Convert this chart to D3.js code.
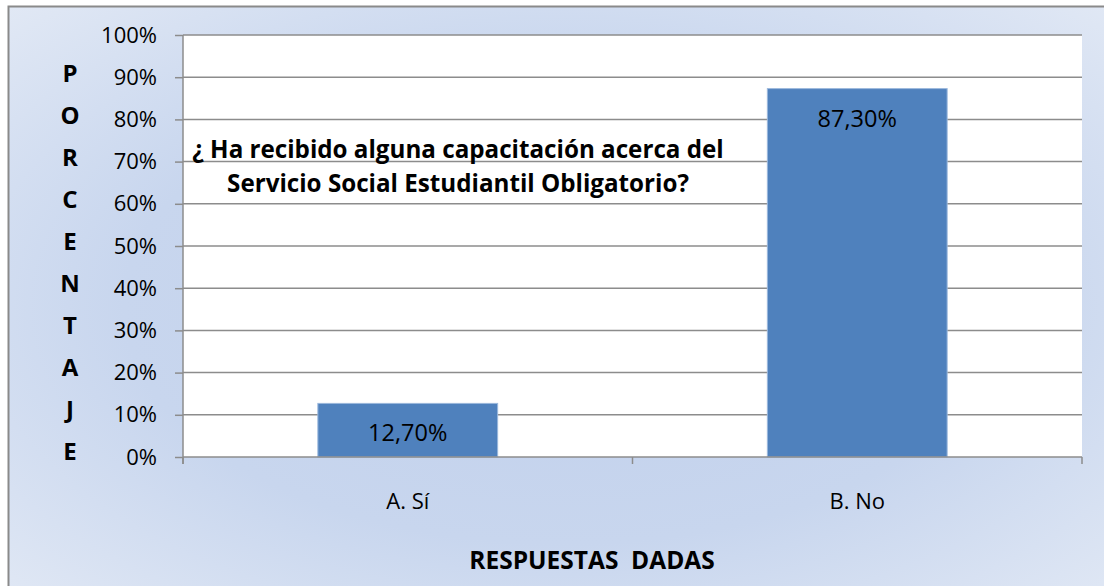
<!DOCTYPE html>
<html><head><meta charset="utf-8">
<script src="https://cdn.jsdelivr.net/npm/d3@7"></script>
<style>body{margin:0;background:#fff}svg{display:block}</style>
</head><body>
<svg id="c" width="1104" height="586"></svg>
<script>
const categories = ["A. Sí", "B. No"];
const values = [12.7, 87.3];
const valueLabels = ["12,70%", "87,30%"];
const yTicks = [0, 10, 20, 30, 40, 50, 60, 70, 80, 90, 100];
const titleLines = ["¿ Ha recibido alguna capacitación acerca del", "Servicio Social Estudiantil Obligatorio?"];
const yTitle = "PORCENTAJE".split("");
const xTitle = "RESPUESTAS\u00a0\u00a0DADAS";

const svg = d3.select("#c");
const font = "'Open Sans', Lato, sans-serif";

const defs = svg.append("defs");
const g = defs.append("radialGradient").attr("id", "bg").attr("cx", "0.5").attr("cy", "0.5").attr("r", "0.72");
g.append("stop").attr("offset", "0").attr("stop-color", "#c1d0ec");
g.append("stop").attr("offset", "0.55").attr("stop-color", "#c8d6ee");
g.append("stop").attr("offset", "1").attr("stop-color", "#e2e9f5");

svg.append("rect").attr("x", 8.5).attr("y", 6.5).attr("width", 1110).attr("height", 600)
  .attr("fill", "url(#bg)").attr("stroke", "#8a8a8a").attr("stroke-width", 2);

const L = 183, R = 1082, T = 35, B = 457;
const x = d3.scaleBand().domain(categories).range([L, R]).paddingInner(0.6).paddingOuter(0.3);
const y = d3.scaleLinear().domain([0, 100]).range([B, T]);

svg.append("rect").attr("x", L).attr("y", T).attr("width", R - L).attr("height", B - T).attr("fill", "#fff");

// gridlines
svg.append("g").selectAll("line").data(yTicks.filter(d => d > 0)).join("line")
  .attr("x1", L).attr("x2", R).attr("y1", d => y(d)).attr("y2", d => y(d))
  .attr("stroke", "#8c8c8c").attr("stroke-width", 1.5);

// bars
svg.append("g").selectAll("rect").data(values).join("rect")
  .attr("x", (d, i) => x(categories[i])).attr("width", x.bandwidth())
  .attr("y", d => y(d)).attr("height", d => B - y(d))
  .attr("fill", "#4f81bd").attr("stroke", "#9bb8dc").attr("stroke-width", 1);

svg.append("g").selectAll("text").data(values).join("text")
  .attr("x", (d, i) => x(categories[i]) + x.bandwidth() / 2)
  .attr("y", d => y(d) + 38)
  .attr("text-anchor", "middle").attr("font-family", font).attr("font-size", 23.5).attr("fill", "#000")
  .text((d, i) => valueLabels[i]);

// y axis
const yAxis = d3.axisLeft(y).tickValues(yTicks).tickFormat(d => d + "%").tickSize(8).tickPadding(18);
const ya = svg.append("g").attr("transform", `translate(${L},0)`).call(yAxis);
ya.select(".domain").attr("d", `M0,${T}V${B + 7}`).attr("stroke", "#8c8c8c").attr("stroke-width", 1.5);
ya.selectAll(".tick line").attr("stroke", "#8c8c8c").attr("stroke-width", 1.5);
ya.selectAll(".tick text").attr("font-family", font).attr("font-size", 22).attr("fill", "#000");

// x axis
const xa = svg.append("g").attr("transform", `translate(0,${B})`);
xa.append("line").attr("x1", L).attr("x2", R).attr("y1", 0).attr("y2", 0).attr("stroke", "#8c8c8c").attr("stroke-width", 1.5);
const bounds = [L, ...categories.map(c => x(c) + x.bandwidth() / 2 + x.step() / 2)];
xa.selectAll("line.t").data(bounds).join("line").attr("class", "t")
  .attr("x1", d => d).attr("x2", d => d).attr("y1", 0).attr("y2", 7)
  .attr("stroke", "#8c8c8c").attr("stroke-width", 1.5);
xa.selectAll("text").data(categories).join("text")
  .attr("x", d => x(d) + x.bandwidth() / 2).attr("y", 52)
  .attr("text-anchor", "middle").attr("font-family", font).attr("font-size", 22).attr("fill", "#000")
  .text(d => d);

// title
svg.append("g").selectAll("text").data(titleLines).join("text")
  .attr("x", 458).attr("y", (d, i) => 158 + i * 34)
  .attr("text-anchor", "middle").attr("font-family", font).attr("font-weight", "bold")
  .attr("font-size", 24.2).attr("fill", "#000").text(d => d);

// y title
svg.append("g").selectAll("text").data(yTitle).join("text")
  .attr("x", 70).attr("y", (d, i) => 82 + i * 42)
  .attr("text-anchor", "middle").attr("font-family", font).attr("font-weight", "bold")
  .attr("font-size", 24).attr("fill", "#000").text(d => d);

// x title
svg.append("text").attr("x", 592).attr("y", 569).attr("text-anchor", "middle")
  .attr("font-family", font).attr("font-weight", "bold").attr("font-size", 24.5).attr("fill", "#000")
  .text(xTitle);
</script>
</body></html>
